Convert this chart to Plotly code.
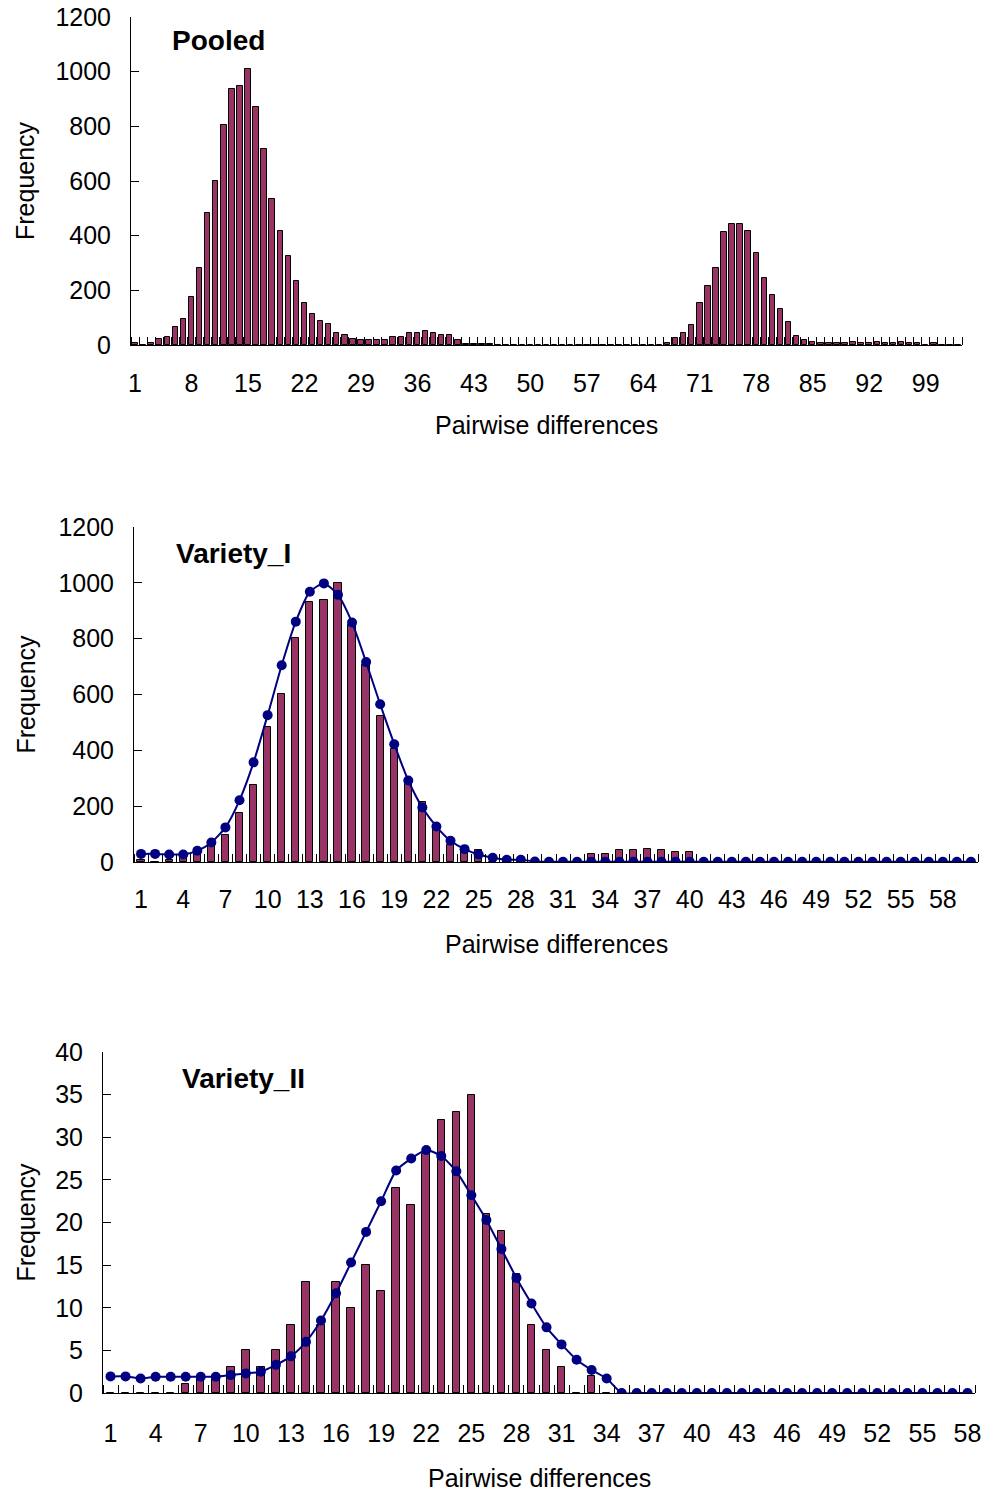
import plotly.graph_objects as go
import numpy as np

# ---------------- data ----------------
pooled_counts = [7, 0, 7, 23, 30, 66, 96, 174, 282, 483,
                 601, 805, 937, 948, 1009, 871, 716, 535, 417, 327,
                 233, 155, 115, 88, 78, 43, 35, 23, 17, 17,
                 17, 17, 30, 30, 43, 43, 50, 43, 35, 35,
                 17, 5, 5, 5, 5, 0, 0, 0, 0, 0,
                 0, 0, 0, 0, 0, 0, 0, 0, 0, 0,
                 0, 0, 0, 0, 0, 0, 8, 24, 43, 73,
                 155, 215, 281, 412, 441, 441, 417, 338, 245, 184,
                 131, 84, 34, 18, 11, 7, 7, 7, 7, 11,
                 7, 7, 11, 7, 7, 11, 7, 7, 0, 7,
                 0, 0, 0]
pooled_ticks = list(range(1, 100, 7))

v1_counts = [7, 0, 7, 15, 30, 70, 97, 175, 276, 482,
             602, 803, 930, 940, 1000, 850, 705, 523, 405, 279,
             216, 117, 61, 40, 43, 0, 0, 0, 0, 0,
             0, 0, 30, 30, 42, 42, 48, 42, 35, 35,
             5, 0, 0, 0, 0, 0, 0, 0, 0, 0,
             0, 0, 0, 0, 0, 0, 0, 0, 0, 0]
v1_fit = [29, 29, 27, 27, 40, 70, 124, 221, 357, 526,
          705, 861, 968, 998, 957, 858, 716, 565, 422, 292,
          195, 127, 76, 46, 27, 15, 8, 8, 2, 1,
          1, 1, 1, 1, 1, 1, 1, 1, 1, 1,
          1, 1, 1, 1, 1, 1, 1, 1, 1, 1,
          1, 1, 1, 1, 1, 1, 1, 1, 1, 1]

v2_counts = [0, 0, 0, 0, 0, 1, 2, 2, 3, 5,
             3, 5, 8, 13, 8, 13, 10, 15, 12, 24,
             22, 28, 32, 33, 35, 21, 19, 14, 8, 5,
             3, 0, 2, 0, 0, 0, 0, 0, 0, 0,
             0, 0, 0, 0, 0, 0, 0, 0, 0, 0,
             0, 0, 0, 0, 0, 0, 0, 0]
v2_fit = [1.95, 1.95, 1.7, 1.9, 1.9, 1.9, 1.9, 1.9, 2.1, 2.3,
          2.5, 3.3, 4.3, 6.0, 8.5, 11.7, 15.3, 18.9, 22.5, 26.1,
          27.5, 28.5, 27.8, 26.0, 23.2, 20.3, 16.9, 13.5, 10.5, 7.7,
          5.7, 3.9, 2.7, 1.7, 0, 0, 0, 0, 0, 0,
          0, 0, 0, 0, 0, 0, 0, 0, 0, 0,
          0, 0, 0, 0, 0, 0, 0, 0]
v_ticks = list(range(1, 59, 3))

titles = ["Pooled", "Variety_I", "Variety_II"]
x_title = "Pairwise differences"
y_title = "Frequency"

# ---------------- style ----------------
W, H = 983, 1492
BAR = "#993366"
LINE = "#000080"
FONT = "Arial, Liberation Sans, sans-serif"
TICKF = dict(family=FONT, size=25, color="black")


def px(x):
    return x / W


def py(y):
    return 1 - y / H


# plot boxes in pixels: (left, right, top, bottom)
boxes = [(131, 962, 17, 345), (134, 978, 527, 862), (103, 975, 1052, 1393)]
xtitle_y = [425, 944, 1478]
xlab_standoff = [16, 15, 18]

fig = go.Figure()

datasets = [
    (pooled_counts, None, 0.68),
    (v1_counts, v1_fit, 0.52),
    (v2_counts, v2_fit, 0.5),
]

for i, (counts, fit, bw) in enumerate(datasets):
    sfx = "" if i == 0 else str(i + 1)
    cats = list(range(1, len(counts) + 1))
    fig.add_trace(go.Bar(x=cats, y=counts, width=bw, xaxis="x" + sfx, yaxis="y" + sfx,
                         marker=dict(color=BAR, line=dict(color="black", width=1)),
                         showlegend=False))
    if fit is not None:
        fig.add_trace(go.Scatter(x=cats, y=fit, xaxis="x" + sfx, yaxis="y" + sfx,
                                 mode="lines+markers",
                                 line=dict(color=LINE, width=2, shape="spline", smoothing=0.6),
                                 marker=dict(color=LINE, size=10),
                                 showlegend=False))

yranges = [(1200, 200), (1200, 200), (40, 5)]
xticks = [pooled_ticks, v_ticks, v_ticks]

layout = dict(width=W, height=H, margin=dict(l=0, r=0, t=0, b=0, autoexpand=False),
              plot_bgcolor="white", paper_bgcolor="white", bargap=0, showlegend=False,
              annotations=[])

for i, (l, r, t, b) in enumerate(boxes):
    sfx = "" if i == 0 else str(i + 1)
    n = len(datasets[i][0])
    ymax, ystep = yranges[i]
    layout["xaxis" + sfx] = dict(
        domain=[px(l), px(r)], anchor="y" + sfx, range=[0.5, n + 0.5],
        tickmode="array", tickvals=xticks[i], ticks="", ticklabelstandoff=xlab_standoff[i],
        ticklabeloverflow="allow",
        showline=True, linecolor="black", linewidth=1, showgrid=False, zeroline=False,
        tickfont=TICKF,
        minor=dict(tickmode="array", tickvals=list(np.arange(0.5, n + 1, 1.0)),
                   ticks="inside", ticklen=8, tickcolor="black", tickwidth=1, showgrid=False),
    )
    layout["yaxis" + sfx] = dict(
        domain=[py(b), py(t)], anchor="x" + sfx, range=[0, ymax],
        tickmode="array", tickvals=list(range(0, ymax + 1, ystep)),
        ticks="inside", ticklen=8, tickcolor="black", ticklabelstandoff=14,
        ticklabeloverflow="allow",
        showline=True, linecolor="black", linewidth=1, showgrid=False, zeroline=False,
        tickfont=TICKF,
    )
    cx = (l + r) / 2
    cy = (t + b) / 2
    layout["annotations"].append(dict(
        x=px(cx), y=py(xtitle_y[i]), xref="paper", yref="paper", text=x_title, showarrow=False,
        font=dict(family=FONT, size=25, color="black"), xanchor="center", yanchor="middle"))
    layout["annotations"].append(dict(
        x=px(25), y=py(cy), xref="paper", yref="paper", text=y_title, showarrow=False,
        textangle=-90, font=dict(family=FONT, size=25, color="black"),
        xanchor="center", yanchor="middle"))

title_pos = [(218, 41), (233, 553), (243, 1078)]
for (tx, ty), tt in zip(title_pos, titles):
    layout["annotations"].append(dict(
        x=px(tx), y=py(ty), xref="paper", yref="paper", text="<b>%s</b>" % tt,
        showarrow=False, font=dict(family=FONT, size=28, color="black"),
        xanchor="center", yanchor="middle"))

fig.update_layout(**layout)
fig.write_html(
    "out.html",
    config={"displayModeBar": False},
    post_script=("document.body.style.margin='0';"
                 "document.body.style.overflow='hidden';"
                 "document.documentElement.style.overflow='hidden';"),
)
